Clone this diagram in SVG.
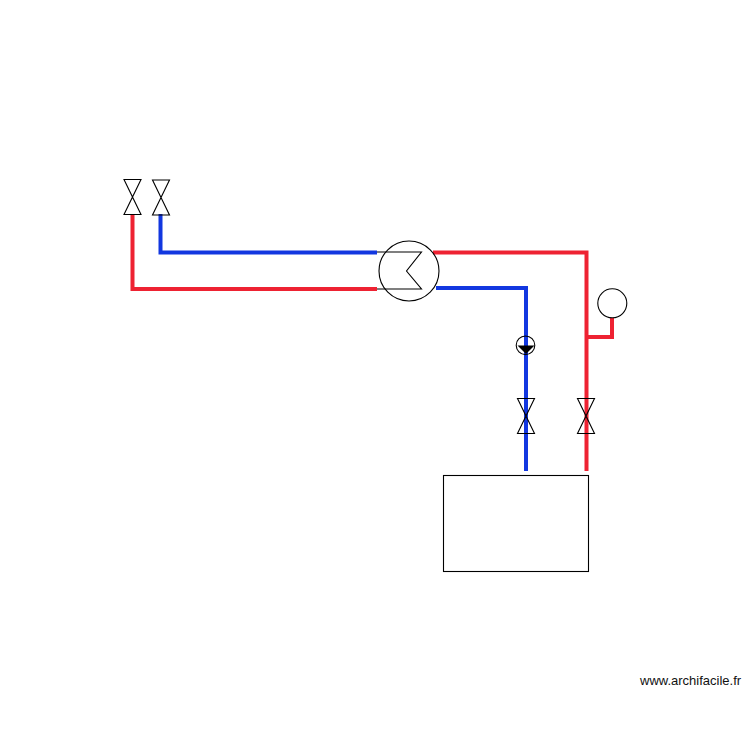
<svg xmlns="http://www.w3.org/2000/svg" width="750" height="750" viewBox="0 0 750 750">
<style>
.sym{fill:none;stroke:#000;stroke-width:1.1}
.pipe{fill:none;stroke-width:4;stroke-linejoin:miter}
.red{stroke:#ee2232}
.blue{stroke:#1237e0}
text{font-family:"Liberation Sans",Arial,sans-serif;font-size:13px;fill:#111}
</style>
<defs>
<path id="valve" class="sym" d="M-8.5,-17.5H8.5L-8.5,17.5H8.5Z"/>
</defs>
<rect width="750" height="750" fill="#fff"/>
<g id="connectors">
<path class="pipe red" d="M132.500,214V289H377"/>
<path class="pipe blue" d="M160.500,214V252.500H377"/>
<path class="pipe red" d="M433,252.500H586.500V471"/>
<path class="pipe blue" d="M436,288H526V471"/>
<path class="pipe red" d="M586.500,337H612V318"/>
</g>
<g id="valve-1"><use href="#valve" x="132.500" y="197"/></g>
<g id="valve-2"><use href="#valve" x="161" y="197.500"/></g>
<g id="exchanger">
<circle class="sym" cx="409" cy="271" r="30"/>
<path class="sym" d="M377,252H421.500L406.500,271L421.500,289H377"/>
</g>
<g id="pump">
<circle class="sym" cx="525.500" cy="345.300" r="9.300"/>
<path d="M517.500,345.500H534.500L526,354Z" fill="#000"/>
</g>
<g id="gauge"><circle class="sym" cx="612.300" cy="303.300" r="14.500"/></g>
<g id="valve-3"><use href="#valve" x="526" y="416"/></g>
<g id="valve-4"><use href="#valve" x="586" y="416"/></g>
<g id="tank"><rect class="sym" x="443.500" y="475.500" width="145" height="96"/></g>
<text x="640" y="685">www.archifacile.fr</text>
</svg>
